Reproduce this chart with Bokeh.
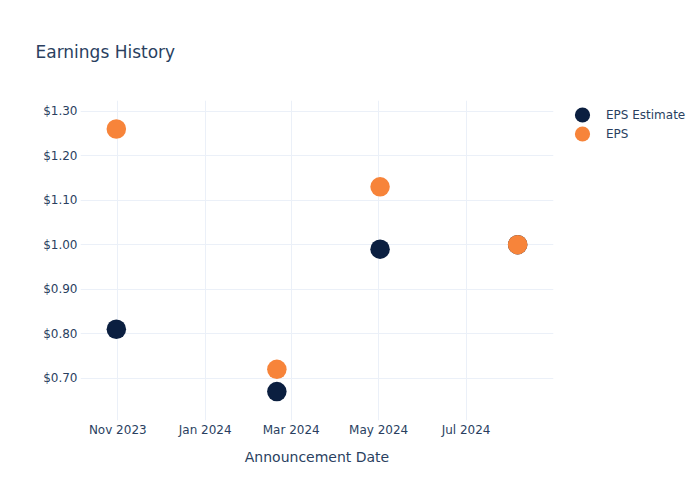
import datetime as dt
from bokeh.plotting import figure
from bokeh.models import (ColumnDataSource, FixedTicker, NumeralTickFormatter,
                          DatetimeTickFormatter, Legend, LegendItem, Range1d)
from bokeh.embed import file_html
from bokeh.resources import INLINE

dates = ["2023-10-31", "2024-02-20", "2024-05-02", "2024-08-06"]
eps_estimate = [0.81, 0.67, 0.99, 1.00]
eps_actual = [1.26, 0.72, 1.13, 1.00]
x_tick_dates = ["2023-11-01", "2024-01-01", "2024-03-01", "2024-05-01", "2024-07-01"]
y_ticks = [0.70, 0.80, 0.90, 1.00, 1.10, 1.20, 1.30]

FONT = "DejaVu Sans"
TXT = "#2a3f5f"
GRID = "#ebf0f8"
NAVY = "#0b1f40"
ORANGE = "#f7843a"

def ms(s):
    d = dt.datetime.strptime(s, "%Y-%m-%d")
    return (d - dt.datetime(1970, 1, 1)).total_seconds() * 1000.0

xd = [dt.datetime.strptime(s, "%Y-%m-%d") for s in dates]
src = ColumnDataSource(dict(x=xd, est=eps_estimate, eps=eps_actual))

p = figure(frame_width=473, frame_height=320, x_axis_type="datetime",
           output_backend="svg", toolbar_location=None,
           title="Earnings History",
           min_border_left=80, min_border_right=147,
           min_border_top=100, min_border_bottom=80,
           x_range=Range1d(dt.datetime(2023, 10, 6), dt.datetime(2024, 8, 31)),
           y_range=Range1d(0.605, 1.324))
p.outline_line_color = None
p.background_fill_color = "white"
p.border_fill_color = "white"

p.title.text_font = FONT
p.title.text_font_size = "17px"
p.title.text_font_style = "normal"
p.title.text_color = TXT
p.title.align = "left"
p.title.offset = -45
p.title.standoff = 78

r1 = p.ellipse("x", "est", source=src, width=19.5, height=19.5,
               width_units="screen", height_units="screen",
               fill_color=NAVY, line_color=None)
r2 = p.ellipse("x", "eps", source=src, width=19.5, height=19.5,
               width_units="screen", height_units="screen",
               fill_color=ORANGE, line_color=None)

p.xaxis.ticker = FixedTicker(ticks=[ms(s) for s in x_tick_dates])
fmt = "%b %Y"
p.xaxis.formatter = DatetimeTickFormatter(years=fmt, months=fmt, days=fmt, hours=fmt,
                                          minutes=fmt, seconds=fmt, milliseconds=fmt,
                                          microseconds=fmt, hourmin=fmt, minsec=fmt)
p.yaxis.ticker = FixedTicker(ticks=y_ticks)
p.yaxis.formatter = NumeralTickFormatter(format="$0.00")

for ax in (p.xaxis, p.yaxis):
    ax.axis_line_color = None
    ax.major_tick_line_color = None
    ax.minor_tick_line_color = None
    ax.major_tick_out = 0
    ax.major_tick_in = 0
    ax.minor_tick_out = 0
    ax.major_label_text_font = FONT
    ax.major_label_text_font_size = "12px"
    ax.major_label_text_color = TXT
p.yaxis.major_label_standoff = 3
p.xaxis.major_label_standoff = 2
p.xaxis.axis_label = "Announcement Date"
p.xaxis.axis_label_text_font = FONT
p.xaxis.axis_label_text_font_size = "14px"
p.xaxis.axis_label_text_font_style = "normal"
p.xaxis.axis_label_text_color = TXT
p.xaxis.axis_label_standoff = 9

p.xgrid.grid_line_color = GRID
p.ygrid.grid_line_color = GRID
p.xgrid.ticker = p.xaxis.ticker
p.ygrid.ticker = p.yaxis.ticker

legend = Legend(items=[LegendItem(label="EPS Estimate", renderers=[r1]),
                       LegendItem(label="EPS", renderers=[r2])],
                location="top_left", margin=5, padding=0, spacing=0,
                glyph_width=48, glyph_height=19, label_height=19,
                label_standoff=0, label_text_font=FONT,
                label_text_font_size="12px", label_text_color=TXT,
                label_text_baseline="middle",
                border_line_color=None, background_fill_alpha=0)
p.add_layout(legend, "right")

open("out.html", "w").write(file_html(p, INLINE))
